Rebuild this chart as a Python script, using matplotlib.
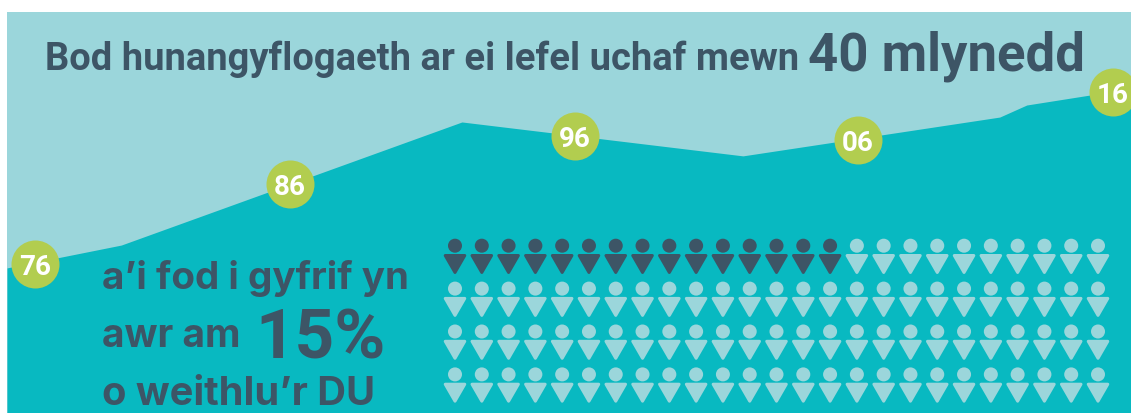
import matplotlib
matplotlib.use("Agg")
import matplotlib.pyplot as plt
import numpy as np
from matplotlib.path import Path
from matplotlib.markers import MarkerStyle

# ---- data ----
line_years = [1974.96, 1979.2, 1991.84, 2002.27, 2011.8, 2012.8, 2016.67]
line_share = [7.84, 8.77, 13.78, 12.40, 13.98, 14.47, 15.14]
badge_years = [1976.0, 1985.46, 1996.04, 2006.54, 2016.0]
badge_share = [8.0, 11.26, 13.21, 13.05, 15.0]
badge_labels = ["76", "86", "96", "06", "16"]
people_cols = 25
people_rows = 4
people_highlighted = 15

INK = "#3d5566"
TEAL = "#08b9c1"
PALE = "#9bd6db"
GREEN = "#b2cd4f"

W, H = 1131, 414
fig = plt.figure(figsize=(W / 100, H / 100), dpi=100, facecolor="white")


def px_axes(x0, y0, x1, y1):
    return fig.add_axes([x0 / W, 1 - y1 / H, (x1 - x0) / W, (y1 - y0) / H])


ax = px_axes(7, 13, 1131, 414)
ax.set_xlim(1974.96, 2016.67)
ax.set_ylim(1.935, 18.256)
ax.axis("off")
ax.add_patch(plt.Rectangle((0, 0), 1, 1, transform=ax.transAxes, color=PALE, lw=0, zorder=0))
ax.fill_between(line_years, line_share, 1.935, color=TEAL, lw=0, zorder=1)
ax.scatter(badge_years, badge_share, s=1194, color=GREEN, lw=0, zorder=3, clip_on=False)
for bx, by, lab in zip(badge_years, badge_share, badge_labels):
    ax.annotate(lab, (bx, by), ha="center", va="center_baseline", color="white", fontsize=20,
                family="Roboto", weight="bold", zorder=4)

# pictogram
gx = px_axes(441.6, 235.9, 1111.4, 407.5)
gx.set_xlim(-0.5, people_cols - 0.5)
gx.set_ylim(people_rows - 0.5, -0.5)
gx.axis("off")
head = Path.circle((0, 10.65), 5.5)
body = Path([(-9.8, 0.85), (9.8, 0.85), (0, -16.15), (-9.8, 0.85)],
            [Path.MOVETO, Path.LINETO, Path.LINETO, Path.CLOSEPOLY])
person = MarkerStyle(Path.make_compound_path(head, body))
rows, cols = np.divmod(np.arange(people_cols * people_rows), people_cols)
colors = [INK if i < people_highlighted else PALE for i in range(people_cols * people_rows)]
sc = gx.scatter(cols, rows, marker=person, s=541, c=colors, edgecolors=colors, linewidths=2.16, clip_on=False)
sc.set_joinstyle("round")

# text, sized to span the measured width
renderer = fig.canvas.get_renderer()


def txt(x0, x1, y, s, font):
    t = fig.text(x0 / W, 1 - y / H, s, fontsize=30, family=font, weight="bold",
                 color=INK, ha="left", va="baseline")
    w = t.get_window_extent(renderer).width
    t.set_fontsize(30 * (x1 - x0) / w)


txt(45, 797, 70, "Bod hunangyflogaeth ar ei lefel uchaf mewn", "Roboto")
txt(808, 1084, 70, "40 mlynedd", "Roboto")
txt(102, 409, 289, "a’i fod i gyfrif yn", "Inter")
txt(102, 241, 347, "awr am", "Inter")
txt(255, 385, 359, "15%", "Roboto")
txt(102, 375, 405, "o weithlu’r DU", "Inter")

fig.savefig("out.png", dpi=100, facecolor="white")
